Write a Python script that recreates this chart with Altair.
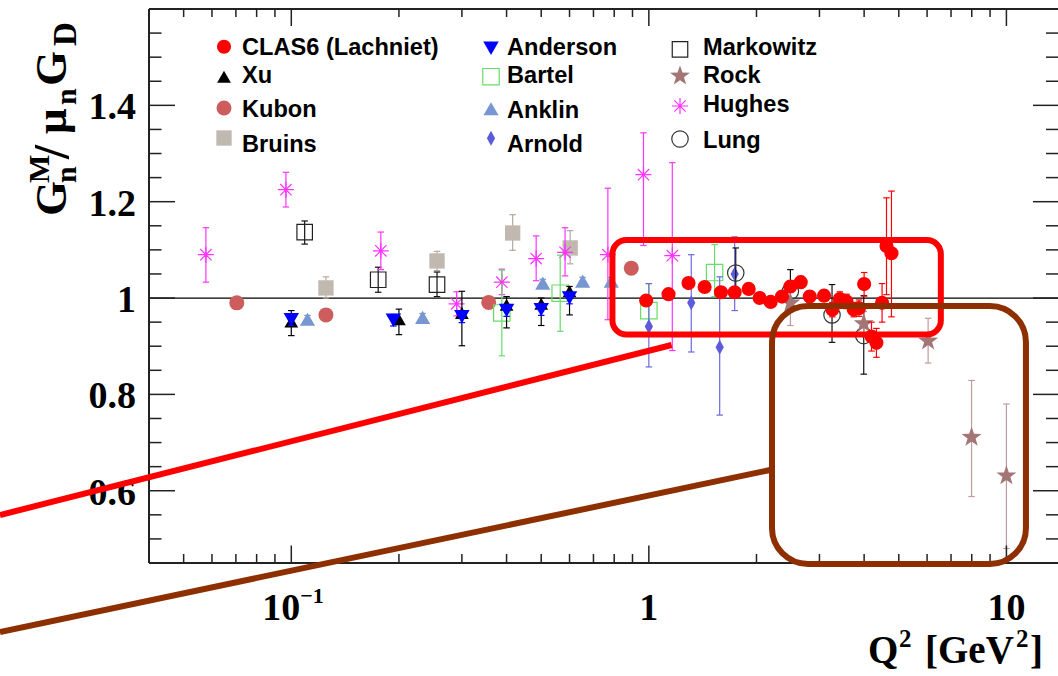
import altair as alt
import pandas as pd

# ---------------- data ----------------
clas_q = [0.983, 1.135, 1.291, 1.432, 1.591, 1.738, 1.902, 2.041, 2.191, 2.357, 2.488, 2.659, 2.818,
          3.09, 3.26, 3.42, 3.57, 3.742, 3.87, 4.0, 4.195, 4.33, 4.49, 4.62, 4.77]
clas_g = [0.995, 1.008, 1.031, 1.023, 1.012, 1.012, 1.019, 1.0, 0.992, 1.003, 1.024, 1.033, 1.003,
          1.005, 0.976, 0.998, 0.993, 0.976, 0.979, 1.029, 0.920, 0.907, 0.990, 1.108, 1.093]
clas_lo = [0.985, 0.998, 1.021, 1.013, 1.002, 1.002, 1.009, 0.99, 0.982, 0.993, 1.012, 1.021, 0.991,
           0.993, 0.961, 0.983, 0.978, 0.961, 0.962, 1.004, 0.890, 0.877, 0.950, 1.007, 0.961]
clas_hi = [1.005, 1.018, 1.041, 1.033, 1.022, 1.022, 1.029, 1.01, 1.002, 1.013, 1.036, 1.045, 1.015,
           1.017, 0.991, 1.013, 1.008, 0.991, 0.996, 1.053, 0.950, 0.937, 1.030, 1.208, 1.222]

xu_q = [0.1, 0.2, 0.3, 0.4, 0.5, 0.6]
xu_g = [0.951, 0.956, 0.969, 0.986, 0.988, 1.014]
xu_lo = [0.922, 0.924, 0.901, 0.938, 0.943, 0.965]
xu_hi = [0.974, 0.977, 1.014, 1.003, 1.000, 1.024]

kubon_q = [0.0704, 0.125, 0.3565, 0.893]
kubon_g = [0.990, 0.965, 0.991, 1.062]
kubon_lo = [0.985, 0.960, 0.986, 1.052]
kubon_hi = [0.995, 0.970, 0.996, 1.072]

bruins_q = [0.125, 0.2556, 0.416, 0.6025]
bruins_g = [1.021, 1.077, 1.135, 1.104]
bruins_lo = [1.000, 1.057, 1.099, 1.071]
bruins_hi = [1.044, 1.097, 1.173, 1.140]

anderson_q = [0.1, 0.193, 0.3, 0.4, 0.5, 0.6]
anderson_g = [0.955, 0.954, 0.961, 0.974, 0.976, 1.0]
anderson_lo = [0.943, 0.942, 0.949, 0.962, 0.964, 0.988]
anderson_hi = [0.967, 0.966, 0.973, 0.986, 0.988, 1.012]

bartel_q = [0.388, 0.565, 1.0, 1.527]
bartel_g = [0.969, 1.010, 0.974, 1.053]
bartel_lo = [0.880, 0.931, 0.920, 1.003]
bartel_hi = [1.058, 1.089, 1.030, 1.111]

anklin_q = [0.111, 0.233, 0.505, 0.653, 0.785]
anklin_g = [0.956, 0.960, 1.031, 1.035, 1.035]
anklin_lo = [0.948, 0.952, 1.023, 1.027, 1.027]
anklin_hi = [0.964, 0.968, 1.039, 1.043, 1.043]

arnold_q = [1.0, 1.314, 1.578, 1.738]
arnold_g = [0.941, 0.990, 0.898, 1.050]
arnold_lo = [0.857, 0.888, 0.757, 0.974]
arnold_hi = [1.030, 1.090, 1.044, 1.127]

markowitz_q = [0.109, 0.175, 0.2556]
markowitz_g = [1.137, 1.038, 1.028]
markowitz_lo = [1.112, 1.012, 1.003]
markowitz_hi = [1.160, 1.064, 1.054]

rock_q = [2.488, 3.99, 6.04, 7.99, 10.0]
rock_g = [0.990, 0.947, 0.911, 0.711, 0.631]
rock_lo = [0.943, 0.922, 0.865, 0.588, 0.480]
rock_hi = [1.030, 0.972, 0.958, 0.829, 0.780]

hughes_q = [0.0577, 0.0966, 0.178, 0.290, 0.388, 0.484, 0.583, 0.768, 0.966, 1.163]
hughes_g = [1.090, 1.225, 1.098, 0.988, 1.033, 1.082, 1.095, 1.090, 1.256, 1.088]
hughes_lo = [1.033, 1.189, 1.059, 0.963, 1.007, 1.036, 1.046, 0.955, 1.109, 0.891]
hughes_hi = [1.146, 1.261, 1.137, 1.013, 1.060, 1.129, 1.146, 1.228, 1.343, 1.281]

lung_q = [1.75, 2.488, 3.253, 3.99]
lung_g = [1.052, 1.014, 0.965, 0.922]
lung_lo = [1.003, 0.975, 0.908, 0.842]
lung_hi = [1.104, 1.059, 1.028, 1.005]

# axis ticks and labels
x_major = [0.1, 1, 10]
x_minor = [0.05, 0.06, 0.07, 0.08, 0.09, 0.2, 0.3, 0.4, 0.5, 0.6, 0.7, 0.8, 0.9,
           2, 3, 4, 5, 6, 7, 8, 9]
y_major = [0.6, 0.8, 1.0, 1.2, 1.4]
y_minor = [0.5, 0.55, 0.65, 0.7, 0.75, 0.85, 0.9, 0.95, 1.05, 1.1, 1.15, 1.25, 1.3,
           1.35, 1.45, 1.5, 1.55]
y_labels = ["0.6", "0.8", "1", "1.2", "1.4"]
ref_value = [1.0]

# highlight annotations (in data coordinates)
red_box = dict(x1=[0.791], x2=[6.555], y1=[1.1205], y2=[0.9243])
red_line_q = [0.01532, 1.158]
red_line_g = [0.5496, 0.9025]
brown_box = dict(x1=[2.21], x2=[11.34], y1=[0.9835], y2=[0.4479])
brown_line_q = [0.01532, 2.182]
brown_line_g = [0.3068, 0.643]

# ---------------- layout ----------------
W, H = 909, 554
PL, PT = 149, 9
X_DOMAIN = [0.04, 13.94]
Y_DOMAIN = [0.45, 1.6]

xs = alt.Scale(type="log", domain=X_DOMAIN, nice=False)
ys = alt.Scale(domain=Y_DOMAIN, nice=False, zero=False)


def X(f="q"):
    return alt.X(f"{f}:Q", scale=xs, axis=None)


def Y(f="g"):
    return alt.Y(f"{f}:Q", scale=ys, axis=None)


one = pd.DataFrame({"a": [0]})
ASTER = "M-1,0L1,0M0,-1L0,1M-0.71,-0.71L0.71,0.71M-0.71,0.71L0.71,-0.71"
THIN_DIAMOND = "M0,-1L0.55,0L0,1L-0.55,0Z"
STAR = ("M0,-1L0.235,-0.324L0.951,-0.309L0.380,0.124L0.588,0.809L0,0.4L-0.588,0.809"
        "L-0.380,0.124L-0.951,-0.309L-0.235,-0.324Z")
CAP = "M-1,0L1,0"

series = [
    dict(name="Kubon", q=kubon_q, g=kubon_g, lo=kubon_lo, hi=kubon_hi, shape="circle", size=225,
         color="#cd5c5c", filled=True, ec="#cd5c5c", lx=224, ly=108, tx=242, ty=116.7),
    dict(name="Bruins", q=bruins_q, g=bruins_g, lo=bruins_lo, hi=bruins_hi, shape="square", size=235,
         color="#c1b8b0", filled=True, ec="#b3a9a1", lx=224, ly=138, tx=242, ty=151.7),
    dict(name="Markowitz", q=markowitz_q, g=markowitz_g, lo=markowitz_lo, hi=markowitz_hi, shape="square",
         size=240, color="#222222", filled=False, ec="#111111", lx=680, ly=49.3, tx=703, ty=55),
    dict(name="Hughes", q=hughes_q, g=hughes_g, lo=hughes_lo, hi=hughes_hi, shape=ASTER, size=256,
         color="#ff33ff", filled=False, ec="#ff33ff", lx=680, ly=106, tx=703, ty=111.7),
    dict(name="Bartel", q=bartel_q, g=bartel_g, lo=bartel_lo, hi=bartel_hi, shape="square", size=270,
         color="#66dd66", filled=False, ec="#66dd66", lx=491, ly=76.7, tx=507, ty=83.3),
    dict(name="Anklin", q=anklin_q, g=anklin_g, lo=anklin_lo, hi=anklin_hi, shape="triangle-up", size=230,
         color="#7896d0", filled=True, ec="#7896d0", lx=491, ly=108.7, tx=507, ty=118.3),
    dict(name="Xu", q=xu_q, g=xu_g, lo=xu_lo, hi=xu_hi, shape="triangle-up", size=190,
         color="#000000", filled=True, ec="#000000", lx=224, ly=76.7, tx=242, ty=83.3),
    dict(name="Anderson", q=anderson_q, g=anderson_g, lo=anderson_lo, hi=anderson_hi, shape="triangle-down",
         size=240, color="#0000ff", filled=True, ec="#0000ff", lx=491, ly=48.3, tx=507, ty=55),
    dict(name="Arnold", q=arnold_q, g=arnold_g, lo=arnold_lo, hi=arnold_hi, shape=THIN_DIAMOND, size=225,
         color="#5b5bdb", filled=True, ec="#6a6ae0", lx=491, ly=138.3, tx=507, ty=151.7),
    dict(name="Lung", q=lung_q, g=lung_g, lo=lung_lo, hi=lung_hi, shape="circle", size=270,
         color="#333333", filled=False, ec="#111111", lx=680, ly=139, tx=703, ty=148.3),
    dict(name="Rock", q=rock_q, g=rock_g, lo=rock_lo, hi=rock_hi, shape=STAR, size=440,
         color="#a37575", filled=True, ec="#bf9c9c", lx=680, ly=76, tx=703, ty=83.3),
    dict(name="CLAS6 (Lachniet)", q=clas_q, g=clas_g, lo=clas_lo, hi=clas_hi, shape="circle", size=200,
         color="#ff0000", filled=True, ec="#ff0000", lx=224, ly=46.7, tx=242, ty=55),
]

layers = []

# reference line at 1
layers.append(alt.Chart(pd.DataFrame({"v": ref_value})).mark_rule(color="#000000", strokeWidth=1.3)
              .encode(y=Y("v"), x=alt.value(0), x2=alt.value(W)))

for s in series:
    df = pd.DataFrame({"q": s["q"], "g": s["g"], "lo": s["lo"], "hi": s["hi"]})
    base = alt.Chart(df)
    layers.append(base.mark_rule(color=s["ec"], strokeWidth=1.2)
                  .encode(x=X(), y=Y("lo"), y2=alt.Y2("hi:Q")))
    layers.append(base.transform_fold(["lo", "hi"], as_=["k", "v"])
                  .mark_point(shape=CAP, size=42, filled=False, color=s["ec"], strokeWidth=1.2, opacity=1)
                  .encode(x=X(), y=Y("v")))
    layers.append(base.mark_point(shape=s["shape"], size=s["size"], filled=s["filled"], color=s["color"],
                                  strokeWidth=1.2, opacity=1)
                  .encode(x=X(), y=Y()))
    # legend entry
    layers.append(alt.Chart(one).mark_point(shape=s["shape"], size=s["size"], filled=s["filled"],
                                            color=s["color"], strokeWidth=1.2, opacity=1)
                  .encode(x=alt.value(s["lx"] - PL), y=alt.value(s["ly"] - PT)))
    layers.append(alt.Chart(one).mark_text(text=s["name"], align="left", baseline="alphabetic",
                                           font="Liberation Sans", fontWeight="bold", fontSize=23.6,
                                           color="#000000")
                  .encode(x=alt.value(s["tx"] - PL), y=alt.value(s["ty"] - PT)))

# small centre dots of the Hughes asterisks
layers.append(alt.Chart(pd.DataFrame({"q": hughes_q, "g": hughes_g}))
              .mark_point(shape="circle", size=8, filled=True, color="#ff33ff", opacity=1)
              .encode(x=X(), y=Y()))

# frame
FR = "#222222"
layers.append(alt.Chart(one).mark_rule(color=FR, strokeWidth=2)
              .encode(x=alt.value(0), y=alt.value(0), y2=alt.value(H)))
layers.append(alt.Chart(one).mark_rule(color=FR, strokeWidth=2)
              .encode(y=alt.value(0), x=alt.value(0), x2=alt.value(W)))
layers.append(alt.Chart(one).mark_rule(color=FR, strokeWidth=2)
              .encode(y=alt.value(H), x=alt.value(0), x2=alt.value(W)))

# ticks
ymaj = alt.Chart(pd.DataFrame({"v": y_major}))
ymin = alt.Chart(pd.DataFrame({"v": y_minor}))
xmaj = alt.Chart(pd.DataFrame({"v": x_major}))
xmin = alt.Chart(pd.DataFrame({"v": x_minor}))
layers += [
    ymaj.mark_rule(color=FR, strokeWidth=1.5).encode(y=Y("v"), x=alt.value(0), x2=alt.value(26)),
    ymin.mark_rule(color=FR, strokeWidth=1.5).encode(y=Y("v"), x=alt.value(0), x2=alt.value(12.5)),
    ymaj.mark_rule(color=FR, strokeWidth=1.5).encode(y=Y("v"), x=alt.value(W - 25), x2=alt.value(W)),
    ymin.mark_rule(color=FR, strokeWidth=1.5).encode(y=Y("v"), x=alt.value(W - 12), x2=alt.value(W)),
    xmaj.mark_rule(color=FR, strokeWidth=1.5).encode(x=X("v"), y=alt.value(H), y2=alt.value(H - 17.5)),
    xmin.mark_rule(color=FR, strokeWidth=1.5).encode(x=X("v"), y=alt.value(H), y2=alt.value(H - 9)),
    xmaj.mark_rule(color=FR, strokeWidth=1.5).encode(x=X("v"), y=alt.value(0), y2=alt.value(17)),
    xmin.mark_rule(color=FR, strokeWidth=1.5).encode(x=X("v"), y=alt.value(0), y2=alt.value(8)),
]

SERIF = "Liberation Serif"
# y tick labels
layers.append(alt.Chart(pd.DataFrame({"v": y_major, "t": y_labels}))
              .mark_text(align="right", baseline="alphabetic", font=SERIF, fontWeight="bold", fontSize=38,
                         dy=14, color="#000000")
              .encode(y=Y("v"), x=alt.value(-13), text="t:N"))
# x tick labels
layers.append(alt.Chart(pd.DataFrame({"v": [1, 10], "t": ["1", "10"]}))
              .mark_text(align="center", baseline="alphabetic", font=SERIF, fontWeight="bold", fontSize=38,
                         color="#000000")
              .encode(x=X("v"), y=alt.value(H + 57), text="t:N"))
layers.append(alt.Chart(pd.DataFrame({"v": [0.1], "t": ["10"]}))
              .mark_text(align="right", baseline="alphabetic", font=SERIF, fontWeight="bold", fontSize=38,
                         dx=9, color="#000000")
              .encode(x=X("v"), y=alt.value(H + 57), text="t:N"))
layers.append(alt.Chart(pd.DataFrame({"v": [0.1], "t": ["\u22121"]}))
              .mark_text(align="left", baseline="alphabetic", font=SERIF, fontWeight="bold", fontSize=22,
                         dx=9, color="#000000")
              .encode(x=X("v"), y=alt.value(H + 40), text="t:N"))


def txt(t, x, y, size, angle=0, align="left"):
    kw = dict(text=t, align=align, baseline="alphabetic", font=SERIF, fontWeight="bold",
              fontSize=size, color="#000000")
    if angle:
        kw["angle"] = angle
    return alt.Chart(one).mark_text(**kw).encode(x=alt.value(x - PL), y=alt.value(y - PT))


# x title  Q^2 [GeV^2]
layers += [
    txt("Q", 868, 663, 39),
    txt("2", 899, 647, 25),
    txt("[GeV", 925, 663, 39),
    txt("2", 1016, 647, 25),
    txt("]", 1030, 663, 39),
]
# y title  G_n^M / mu_n G_D (rotated)
layers += [
    txt("G", 66, 216, 45, 270),
    txt("M", 49, 183, 30, 270),
    txt("n", 76, 183, 30, 270),
    txt("/", 68, 159, 50, 270),
    txt("\u03bc", 66, 134, 45, 270),
    txt("n", 76, 105, 30, 270),
    txt("G", 66, 86, 45, 270),
    txt("D", 76, 46, 33, 270),
]

# highlight annotations
layers.append(alt.Chart(pd.DataFrame(red_box)).mark_rect(filled=False, color="#ff0000", strokeWidth=6,
                                                          cornerRadius=14)
              .encode(x=X("x1"), x2=alt.X2("x2:Q"), y=Y("y1"), y2=alt.Y2("y2:Q")))
layers.append(alt.Chart(pd.DataFrame({"q": red_line_q, "g": red_line_g}))
              .mark_line(color="#ff0000", strokeWidth=6).encode(x=X(), y=Y()))
layers.append(alt.Chart(pd.DataFrame(brown_box)).mark_rect(filled=False, color="#8e2f00", strokeWidth=6,
                                                            cornerRadius=36)
              .encode(x=X("x1"), x2=alt.X2("x2:Q"), y=Y("y1"), y2=alt.Y2("y2:Q")))
layers.append(alt.Chart(pd.DataFrame({"q": brown_line_q, "g": brown_line_g}))
              .mark_line(color="#8e2f00", strokeWidth=6).encode(x=X(), y=Y()))

chart = alt.layer(*layers).properties(
    width=W, height=H,
    autosize=alt.AutoSizeParams(type="none"),
    padding={"left": PL, "top": PT, "right": 0, "bottom": 676 - PT - H},
    background="white",
).configure_view(stroke=None)

chart.save("out.html", embed_options={"renderer": "svg", "actions": False})
